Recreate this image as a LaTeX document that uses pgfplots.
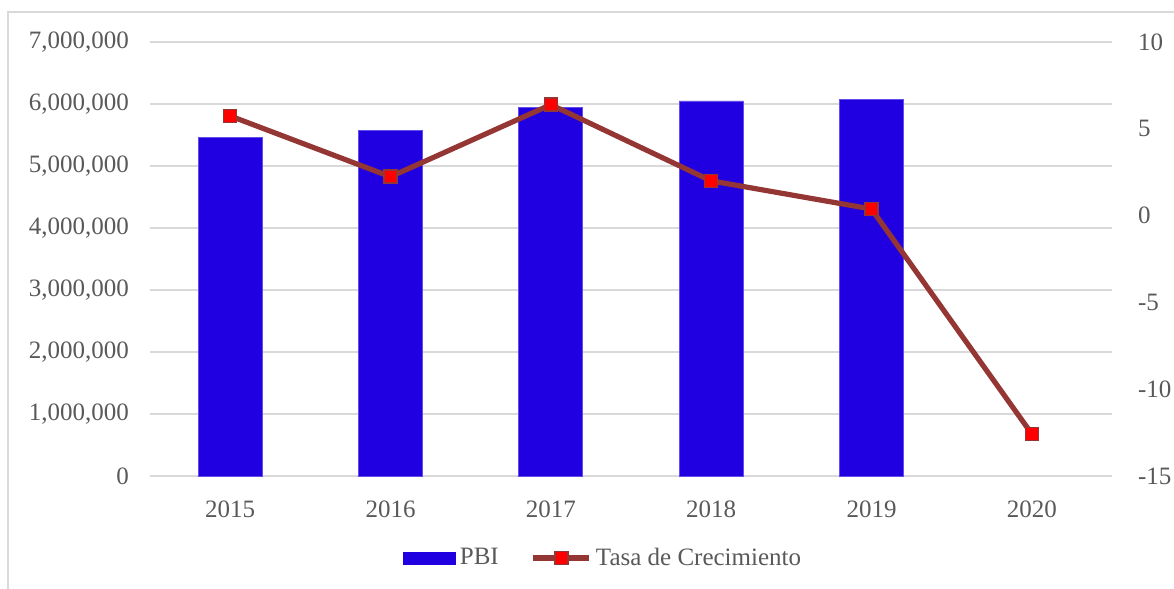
\documentclass[border=0pt]{standalone}
\usepackage{pgfplots}
\pgfplotsset{compat=1.18}
\usepackage{fontspec}
\setmainfont{Liberation Serif}
\definecolor{txt}{HTML}{595959}
\definecolor{gridc}{HTML}{D9D9D9}
\definecolor{barc}{HTML}{2000E0}
\definecolor{lnc}{HTML}{943634}
\newcommand{\tfont}{\fontsize{12.5}{15}\selectfont}
\pgfplotsset{
  mylineleg/.style={legend image code/.code={\draw[mark repeat=2, mark phase=2, ##1] plot coordinates {(0pt,0pt) (14pt,0pt) (28pt,0pt)};}},
  mybarleg/.style={legend image code/.code={\fill[barc] (0pt,-3pt) rectangle (26pt,3pt);}},
}
\begin{document}
\begin{tikzpicture}
\useasboundingbox (0pt,0pt) rectangle (587pt,-294.5pt);
\draw[gridc, line width=0.75pt] (4pt,-294.5pt) -- (4pt,-6pt) -- (587pt,-6pt);
\begin{axis}[
  at={(75pt,-238pt)}, anchor=south west, scale only axis,
  width=481pt, height=217pt,
  xmin=-0.5, xmax=5.5, ymin=0, ymax=7000000,
  xtick={0,1,2,3,4,5}, xticklabels={2015,2016,2017,2018,2019,2020},
  ytick={0,1000000,2000000,3000000,4000000,5000000,6000000,7000000},
  scaled y ticks=false,
  yticklabel style={/pgf/number format/fixed, /pgf/number format/1000 sep={,}},
  /pgf/number format/assume math mode=true,
  ymajorgrids, grid style={gridc, line width=0.75pt},
  axis x line*=bottom, axis y line*=left,
  axis line style={-},
  y axis line style={draw=none},
  x axis line style={gridc, line width=0.75pt},
  major tick length=0pt,
  tick label style={font=\tfont, text=txt},
  xticklabel style={yshift=-9pt},
  yticklabel style={xshift=-7pt},
  clip=false,
]
\addplot[ybar, bar width=32pt, fill=barc, draw=barc!70!white, line width=0.4pt]
  coordinates {(0,5456000) (1,5580000) (2,5940000) (3,6050000) (4,6080000)};
\end{axis}
\begin{axis}[
  at={(75pt,-238pt)}, anchor=south west, scale only axis,
  width=481pt, height=217pt,
  xmin=-0.5, xmax=5.5, ymin=-15, ymax=10,
  ytick={-15,-10,-5,0,5,10},
  /pgf/number format/assume math mode=true,
  axis x line=none, axis y line*=right,
  axis line style={-},
  y axis line style={draw=none},
  major tick length=0pt,
  tick label style={font=\tfont, text=txt},
  yticklabel style={xshift=9.5pt},
  clip=false,
  legend columns=2,
  legend style={at={(0.472,-0.189)}, anchor=center, draw=none, fill=none,
    font=\tfont, text=txt, inner sep=0pt,
    /tikz/every even column/.append style={column sep=14pt}},
  legend cell align=left,
]
\addlegendimage{mybarleg}
\addlegendentry{PBI}
\addplot[lnc, line width=2.6pt, mark=square*, mark size=3.25pt,
  mark options={solid, fill=red, draw=lnc, line width=0.75pt}, mylineleg]
  coordinates {(0,5.74) (1,2.24) (2,6.39) (3,2.0) (4,0.38) (5,-12.58)};
\addlegendentry{Tasa de Crecimiento}
\end{axis}
\end{tikzpicture}
\end{document}
